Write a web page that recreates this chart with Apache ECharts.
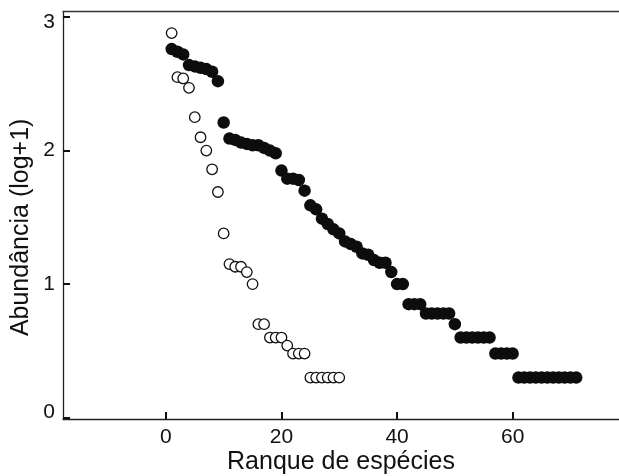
<!DOCTYPE html>
<html>
<head>
<meta charset="utf-8">
<script src="https://cdn.jsdelivr.net/npm/echarts@6/dist/echarts.min.js"></script>
<style>
  html, body { margin: 0; padding: 0; background: #fff; overflow: hidden; }
  #chart { width: 619px; height: 476px; }
</style>
</head>
<body>
<div id="chart"></div>
<script>
// Ranks (x) and abundance log(n+1) values (y)
var openRanks = [1,2,3,4,5,6,7,8,9,10,11,12,13,14,15,16,17,18,19,20,21,22,23,24,25,26,27,28,29,30];
var openValues = [2.88,2.55,2.54,2.47,2.25,2.10,2.00,1.86,1.69,1.38,1.15,1.13,1.13,1.09,1.00,0.70,0.70,0.60,0.60,0.60,0.54,0.48,0.48,0.48,0.30,0.30,0.30,0.30,0.30,0.30];

var filledRanks = [];
for (var i = 1; i <= 71; i++) filledRanks.push(i);
var filledValues = [
  2.76,2.74,2.72,2.64,2.63,2.62,2.61,2.59,2.52,2.21,
  2.09,2.08,2.06,2.05,2.04,2.04,2.02,2.00,1.98,1.85,
  1.79,1.79,1.78,1.70,1.59,1.56,1.49,1.45,1.41,1.38,
  1.32,1.30,1.28,1.23,1.22,1.18,1.16,1.16,1.09,1.00,
  1.00,0.85,0.85,0.85,0.78,0.78,0.78,0.78,0.78,0.70,
  0.60,0.60,0.60,0.60,0.60,0.60,0.48,0.48,0.48,0.48,
  0.30,0.30,0.30,0.30,0.30,0.30,0.30,0.30,0.30,0.30,0.30
];

var xTicks = [0, 20, 40, 60];
var yTicks = [0, 1, 2, 3];

var xMin = -17.8, xMax = 78.4;
var yMin = -0.01, yMax = 3.04;

function pairs(xs, ys) { return xs.map(function (x, i) { return [x, ys[i]]; }); }

var chart = echarts.init(document.getElementById('chart'), null, { renderer: 'canvas', width: 619, height: 476 });
var fontFam = '"Liberation Sans", Arial, Helvetica, sans-serif';
chart.setOption({
  animation: false,
  backgroundColor: '#ffffff',
  grid: { left: 63, right: 0, top: 11.7, bottom: 57, containLabel: false, outerBoundsMode: 'none' },
  xAxis: [{
    type: 'value', min: xMin, max: xMax,
    name: 'Ranque de espécies', nameLocation: 'middle', nameGap: 31, nameMoveOverlap: false,
    nameTextStyle: { fontFamily: fontFam, fontSize: 25, color: '#111' },
    axisLine: { show: true, onZero: false, lineStyle: { color: '#222', width: 1.3 } },
    axisTick: { show: true, inside: true, length: 7, lineStyle: { color: '#111', width: 2 }, customValues: xTicks },
    axisLabel: { show: true, customValues: xTicks, margin: 8, fontFamily: fontFam, fontSize: 21, color: '#111' },
    splitLine: { show: false }
  }, {
    type: 'value', position: 'top', min: xMin, max: xMax,
    axisLine: { show: true, onZero: false, lineStyle: { color: '#333', width: 1.3 } },
    axisTick: { show: false }, axisLabel: { show: false }, splitLine: { show: false }
  }],
  yAxis: {
    type: 'value', min: yMin, max: yMax,
    name: 'Abundância (log+1)', nameLocation: 'middle', nameGap: 29, nameRotate: 90, nameMoveOverlap: false,
    nameTextStyle: { fontFamily: fontFam, fontSize: 25, color: '#111', padding: [0, 24, 0, 0] },
    axisLine: { show: true, onZero: false, lineStyle: { color: '#222', width: 1.3 } },
    axisTick: { show: true, inside: true, length: 7, lineStyle: { color: '#111', width: 2 }, customValues: yTicks },
    axisLabel: {
      show: true, customValues: yTicks, margin: 8, fontFamily: fontFam, fontSize: 21, color: '#111',
      formatter: function (v) {
        if (v === 0) return '{lo|0}';
        if (v === 3) return '{hi|3}';
        return String(v);
      },
      rich: {
        lo: { fontFamily: fontFam, fontSize: 21, color: '#111', padding: [0, 0, 10, 0] },
        hi: { fontFamily: fontFam, fontSize: 21, color: '#111', padding: [10, 0, 0, 0] }
      }
    },
    splitLine: { show: false }
  },
  series: [{
    name: 'filled', type: 'scatter', xAxisIndex: 0, yAxisIndex: 0,
    data: pairs(filledRanks, filledValues),
    symbol: 'circle', symbolSize: 12.5,
    itemStyle: { color: '#0d0d0d', opacity: 1 }
  }, {
    name: 'open', type: 'scatter', xAxisIndex: 0, yAxisIndex: 0,
    data: pairs(openRanks, openValues),
    symbol: 'circle', symbolSize: 10.5,
    itemStyle: { color: '#ffffff', borderColor: '#111', borderWidth: 1.3, opacity: 1 }
  }]
});
</script>
</body>
</html>
